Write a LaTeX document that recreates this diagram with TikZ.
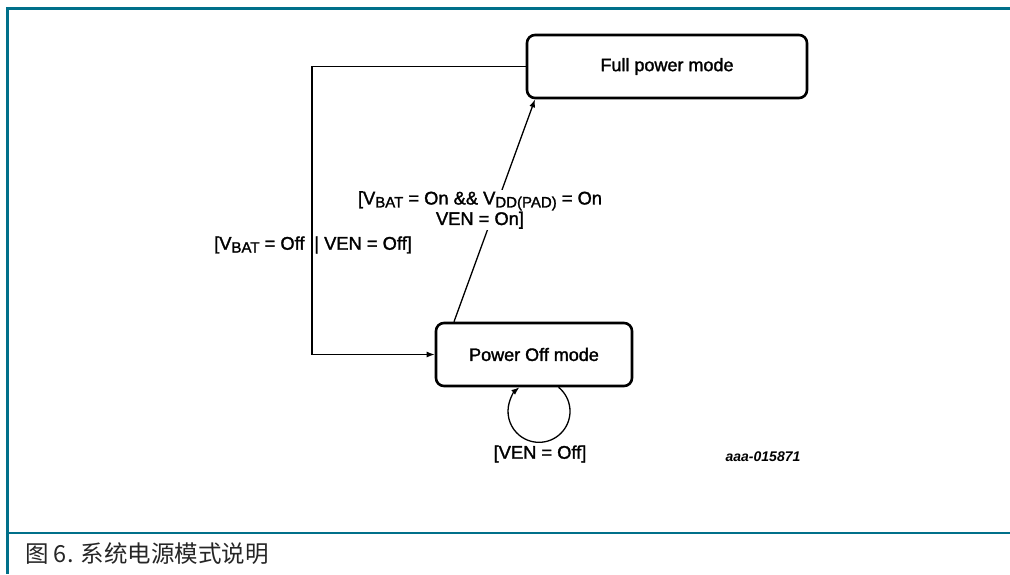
\documentclass[tikz,border=0pt]{standalone}
\usepackage{fontspec}
\setmainfont{Liberation Sans}
\newfontfamily\labfont{Liberation Sans}[FakeBold=1.6]
\newfontfamily\cjk{Noto Sans CJK SC}
\usetikzlibrary{arrows.meta}
\definecolor{frameteal}{RGB}{0,112,138}
\newcommand\subx[1]{\raisebox{-2.9pt}{\fontsize{15}{15}\selectfont #1}}
\tikzset{
  state/.style={draw, line width=2.6pt, rounded corners=8pt, minimum height=63pt, inner sep=0pt,
                font=\labfont\fontsize{18}{20}\selectfont},
  arr/.style={line width=1.3pt, -{Latex[length=8pt,width=6pt]}},
  lab/.style={font=\labfont\fontsize{18.3}{20.5}\selectfont, inner sep=1pt, align=center},
  framerule/.style={draw=frameteal, line width=2.6pt}
}
\begin{document}
\begin{tikzpicture}[x=1pt,y=1pt]
\useasboundingbox (0,0) rectangle (1010,-574);
% frame
\coordinate (ftl) at (7.5,-8.5);
\coordinate (ftr) at (1010,-8.5);
\coordinate (fbl) at (7.5,-574);
\coordinate (sl) at (7.5,-533);
\coordinate (sr) at (1010,-533);
\draw[framerule] (ftr) -- (ftl) -- (fbl);
\draw[framerule] (sl) -- (sr);
\node[anchor=base west, inner sep=0pt, font=\cjk\fontsize{23.5}{23.5}\selectfont, text=black!85] (cap) at (25,-562) {图 6. 系统电源模式说明};
% states
\node[state, minimum width=280pt] (full) at (667,-66.5) {Full power mode};
\node[state, minimum width=196pt] (off) at (534,-354.5) {Power Off mode};
% transition off -> full
\draw[arr] ([xshift=-80pt]off.north) -- ([xshift=-132pt]full.south);
\node[lab, fill=white] (lon) at (480,-210) {[V\subx{BAT} = On \&\& V\subx{DD(PAD)} = On\\VEN = On]};
% transition full -> off
\coordinate (lc) at (312,-66.5);
\draw[arr] (full.west) -- (lc) |- (off.west);
\node[lab] (loff) at (313,-245) {[V\subx{BAT} = Off || VEN = Off]};
% self loop
\draw[arr] ([xshift=24.6pt]off.south) arc[start angle=50.8, end angle=-230.8, radius=31pt];
\node[lab] (lven) at (540,-454) {[VEN = Off]};
\node[font=\bfseries\itshape\fontsize{14}{14}\selectfont] (code) at (763,-457) {aaa-015871};
\end{tikzpicture}
\end{document}
